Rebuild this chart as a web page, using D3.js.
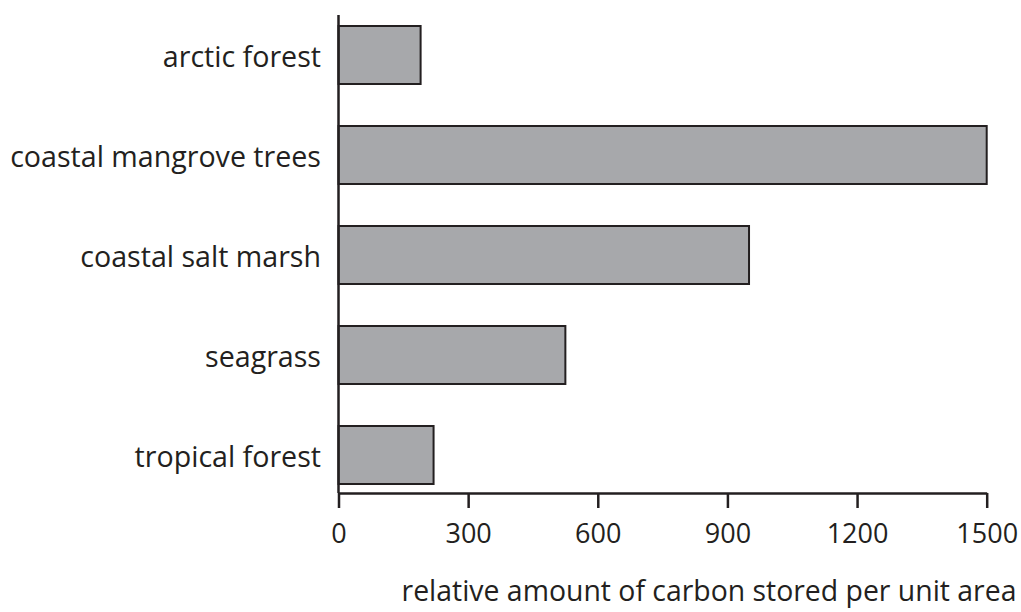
<!DOCTYPE html>
<html>
<head>
<meta charset="utf-8">
<script src="https://cdn.jsdelivr.net/npm/d3@7"></script>
<style>
  body { margin: 0; background: #fff; }
  svg text { font-family: "Open Sans", "Noto Sans", sans-serif; fill: #231f20; }
</style>
</head>
<body>
<div id="chart"></div>
<script>
// DATA
var habitats = ["arctic forest", "coastal mangrove trees", "coastal salt marsh", "seagrass", "tropical forest"];
var carbon = [190, 1500, 950, 525, 220];
var xTicks = [0, 300, 600, 900, 1200, 1500];
var xTitle = "relative amount of carbon stored per unit area";

var svgWidth = 1021, svgHeight = 612;
var left = 338.5, right = 986.7;

var svg = d3.select("#chart")
    .append("svg")
    .attr("width", svgWidth)
    .attr("height", svgHeight);

var x = d3.scaleLinear()
    .domain([0, 1500])
    .range([left, right]);

var y = d3.scaleBand()
    .domain(habitats)
    .range([5, 505])
    .paddingInner(0.42)
    .paddingOuter(0.21);

// Bars
svg.selectAll("rect.bar")
    .data(habitats)
    .enter()
    .append("rect")
    .attr("class", "bar")
    .attr("x", x(0))
    .attr("y", d => y(d))
    .attr("width", (d, i) => x(carbon[i]) - x(0))
    .attr("height", y.bandwidth())
    .attr("fill", "#a7a8ab")
    .attr("stroke", "#231f20")
    .attr("stroke-width", 2);

// Y axis line (no ticks)
svg.append("line")
    .attr("x1", x(0)).attr("x2", x(0))
    .attr("y1", 15).attr("y2", 493)
    .attr("stroke", "#231f20")
    .attr("stroke-width", 2.5);

// Category labels
svg.selectAll("text.cat")
    .data(habitats)
    .enter()
    .append("text")
    .attr("class", "cat")
    .attr("x", 321)
    .attr("y", d => y(d) + y.bandwidth() / 2)
    .attr("dy", "0.42em")
    .attr("text-anchor", "end")
    .attr("font-size", 28.6)
    .text(d => d);

// X axis
var xAxis = svg.append("g")
    .attr("transform", "translate(0,493)")
    .call(d3.axisBottom(x)
        .tickValues(xTicks)
        .tickFormat(d3.format("d"))
        .tickSizeInner(15).tickSizeOuter(0).tickPadding(16));
xAxis.select(".domain").attr("stroke", "#231f20").attr("stroke-width", 2.5);
xAxis.selectAll(".tick line").attr("stroke", "#231f20").attr("stroke-width", 2.5);
xAxis.selectAll(".tick text")
    .attr("font-size", 27)
    .attr("font-family", "Open Sans, Noto Sans, sans-serif")
    .attr("fill", "#231f20");

// X title
svg.append("text")
    .attr("x", 709)
    .attr("y", 601)
    .attr("text-anchor", "middle")
    .attr("font-size", 28.4)
    .text(xTitle);
</script>
</body>
</html>
